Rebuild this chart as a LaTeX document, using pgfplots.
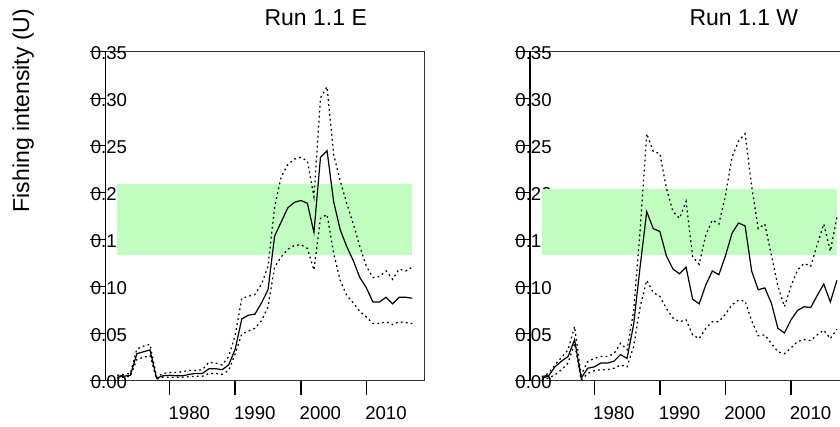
\documentclass[border=0pt]{standalone}
\usepackage{fontspec}
\setmainfont{Liberation Sans}
\usepackage{pgfplots}
\pgfplotsset{compat=1.18}
\usepackage{pgfplotstable}

\definecolor{bandgreen}{RGB}{193,255,193}

% Fishing intensity: median (mid) with lower / upper bounds
\pgfplotstableread{
year mid lo hi
1972 0.003 0.002 0.005
1973 0.004 0.003 0.006
1974 0.005 0.004 0.007
1975 0.028 0.022 0.033
1976 0.030 0.024 0.036
1977 0.032 0.026 0.038
1978 0.002 0.001 0.003
1979 0.0045 0.003 0.007
1980 0.005 0.003 0.008
1981 0.0045 0.003 0.008
1982 0.0045 0.003 0.009
1983 0.006 0.0035 0.010
1984 0.007 0.004 0.010
1985 0.007 0.004 0.011
1986 0.012 0.007 0.019
1987 0.012 0.007 0.018
1988 0.011 0.006 0.016
1989 0.016 0.010 0.025
1990 0.033 0.028 0.048
1991 0.065 0.049 0.087
1992 0.069 0.052 0.089
1993 0.070 0.055 0.091
1994 0.082 0.063 0.102
1995 0.096 0.078 0.121
1996 0.153 0.120 0.184
1997 0.168 0.131 0.216
1998 0.183 0.139 0.229
1999 0.189 0.143 0.235
2000 0.191 0.144 0.237
2001 0.188 0.140 0.233
2002 0.157 0.117 0.195
2003 0.237 0.172 0.300
2004 0.244 0.176 0.312
2005 0.190 0.135 0.240
2006 0.160 0.106 0.212
2007 0.142 0.090 0.188
2008 0.127 0.082 0.166
2009 0.109 0.073 0.142
2010 0.098 0.067 0.121
2011 0.083 0.060 0.109
2012 0.083 0.060 0.110
2013 0.088 0.062 0.116
2014 0.081 0.059 0.107
2015 0.088 0.062 0.118
2016 0.088 0.061 0.116
2017 0.087 0.060 0.120
}\runE

\pgfplotstableread{
year mid lo hi
1972 0.002 0.000 0.0036
1973 0.004 0.002 0.007
1974 0.014 0.0054 0.016
1975 0.020 0.011 0.024
1976 0.025 0.018 0.032
1977 0.043 0.039 0.057
1978 0.002 0.000 0.0054
1979 0.0125 0.007 0.0196
1980 0.014 0.010 0.023
1981 0.018 0.011 0.025
1982 0.018 0.011 0.025
1983 0.020 0.0125 0.028
1984 0.027 0.016 0.039
1985 0.023 0.014 0.032
1986 0.059 0.0355 0.073
1987 0.121 0.078 0.160
1988 0.179 0.106 0.262
1989 0.161 0.093 0.243
1990 0.158 0.089 0.241
1991 0.132 0.076 0.204
1992 0.118 0.066 0.179
1993 0.113 0.062 0.172
1994 0.120 0.064 0.190
1995 0.086 0.048 0.131
1996 0.081 0.044 0.123
1997 0.101 0.055 0.154
1998 0.116 0.062 0.170
1999 0.112 0.062 0.166
2000 0.132 0.070 0.196
2001 0.156 0.080 0.237
2002 0.167 0.085 0.254
2003 0.164 0.084 0.262
2004 0.116 0.063 0.206
2005 0.096 0.047 0.161
2006 0.098 0.048 0.166
2007 0.082 0.039 0.133
2008 0.055 0.030 0.100
2009 0.050 0.028 0.078
2010 0.064 0.034 0.100
2011 0.074 0.041 0.117
2012 0.078 0.043 0.124
2013 0.077 0.042 0.121
2014 0.090 0.048 0.144
2015 0.102 0.053 0.166
2016 0.083 0.044 0.137
2017 0.106 0.054 0.173
}\runW

\pgfplotsset{
  runpanel/.style={
    scale only axis, width=318.7pt, height=329pt,
    xmin=1970.2, xmax=2018.8, ymin=0, ymax=0.35,
    xtick={1980,1990,2000,2010},
    ytick={0,0.05,0.10,0.15,0.20,0.25,0.30,0.35},
    xtick pos=bottom, ytick pos=left, tick align=outside, major tick length=15pt,
    xtick style={draw=black, line width=1.5pt},
    ytick style={draw=black, line width=1pt},
    axis line style={black!80, line width=0.9pt},
    set layers,
    clip=true,
    /pgf/number format/assume math mode=true,
    tick label style={font=\fontsize{18.6}{22}\selectfont, inner sep=0pt},
    xticklabel style={/pgf/number format/1000 sep={}, anchor=base west, xshift=-1.3pt, yshift=-24.3pt},
    yticklabel style={/pgf/number format/.cd, fixed, fixed zerofill, precision=2, /tikz/.cd, anchor=west, xshift=0.2pt, yshift=-2.5pt},
    title style={font=\fontsize{23}{27}\selectfont, anchor=base, yshift=0pt},
    % heavier left spine
    extra description/.code={
      \draw[black, line width=1.8pt] (rel axis cs:0,0) -- (rel axis cs:0,1);
    },
  },
  midline/.style={black, line width=1.2pt},
  boundline/.style={black, line width=1.25pt, dash pattern=on 1.8pt off 3.2pt},
}

\begin{document}
\begin{tikzpicture}
% Run 1.1 E
\begin{axis}[runpanel, at={(105.4pt,46pt)}, anchor=south west,
  title={Run 1.1 E}, title style={at={(axis description cs:0.660,1.0587)}},
  ylabel={Fishing intensity (U)},
  ylabel style={at={(axis description cs:-0.2397,0.819)}, anchor=base, font=\fontsize{23}{27}\selectfont}]
\addplot[draw=none, fill=bandgreen] coordinates {(1972,0.1333) (2017,0.1333) (2017,0.2085) (1972,0.2085)} -- cycle;
\addplot[midline] table[x=year, y=mid] {\runE};
\addplot[boundline] table[x=year, y=hi] {\runE};
\addplot[boundline] table[x=year, y=lo] {\runE};
\end{axis}
% Run 1.1 W
\begin{axis}[runpanel, at={(530pt,46pt)}, anchor=south west,
  title={Run 1.1 W}, title style={at={(axis description cs:0.671,1.0587)}}]
\addplot[draw=none, fill=bandgreen] coordinates {(1972,0.1333) (2017,0.1333) (2017,0.2032) (1972,0.2032)} -- cycle;
\addplot[midline] table[x=year, y=mid] {\runW};
\addplot[boundline] table[x=year, y=hi] {\runW};
\addplot[boundline] table[x=year, y=lo] {\runW};
\end{axis}
\pgfresetboundingbox
\path[use as bounding box] (0,0) rectangle (840pt,426pt);
\end{tikzpicture}
\end{document}
